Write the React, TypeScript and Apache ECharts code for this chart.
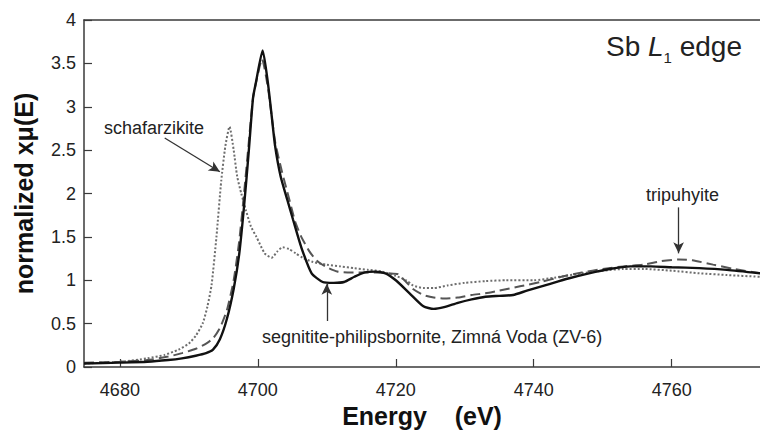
import React, { useEffect, useRef } from "react";
import * as echarts from "echarts";

// Energy (eV) and normalized absorption for each reference spectrum
const segnititeE = [4674.8, 4680, 4684, 4687, 4689, 4691, 4692.5, 4693.5, 4694.5, 4695.5, 4696.5, 4697.3, 4698, 4698.7, 4699.3, 4699.7, 4700.7, 4701.5, 4702, 4702.5, 4703.3, 4704.3, 4705.1, 4706.3, 4707.8, 4709.4, 4711, 4712.5, 4714, 4715.5, 4717, 4718.5, 4720, 4722, 4724, 4725.5, 4727, 4729, 4731, 4733, 4735, 4737, 4739, 4742, 4745, 4748, 4751, 4754, 4757, 4760, 4764, 4768, 4772.8];
const segnititeMu = [0.04, 0.05, 0.06, 0.08, 0.1, 0.13, 0.16, 0.2, 0.32, 0.55, 0.9, 1.3, 1.85, 2.5, 3.1, 3.27, 3.65, 3.25, 2.9, 2.55, 2.2, 1.92, 1.7, 1.38, 1.08, 0.98, 0.97, 0.98, 1.04, 1.09, 1.1, 1.08, 1.0, 0.85, 0.7, 0.67, 0.69, 0.74, 0.78, 0.81, 0.82, 0.83, 0.88, 0.95, 1.02, 1.08, 1.13, 1.16, 1.16, 1.15, 1.14, 1.12, 1.08];

const tripuhyiteE = [4674.8, 4680, 4684, 4687, 4689, 4691, 4692.5, 4693.5, 4694.5, 4695.5, 4696.5, 4697.3, 4698, 4698.7, 4699.3, 4699.8, 4700.6, 4701.5, 4702.5, 4703.5, 4704.5, 4705.4, 4706.3, 4707.5, 4708.5, 4710, 4711.5, 4713, 4715, 4717, 4719, 4720.3, 4721.5, 4722.5, 4724, 4725.5, 4727, 4729, 4731, 4733, 4735, 4738, 4741, 4744, 4747, 4750, 4753, 4756, 4758.5, 4761, 4763, 4766, 4769, 4772.8];
const tripuhyiteMu = [0.05, 0.06, 0.08, 0.12, 0.16, 0.21, 0.27, 0.33, 0.45, 0.65, 1.0, 1.45, 2.0, 2.6, 3.1, 3.3, 3.55, 3.2, 2.6, 2.25, 1.95, 1.68, 1.5, 1.33, 1.23, 1.15, 1.1, 1.09, 1.09, 1.09, 1.08, 1.07, 0.98, 0.9, 0.83, 0.8, 0.79, 0.8, 0.83, 0.85, 0.88, 0.93, 0.98, 1.04, 1.09, 1.13, 1.16, 1.18, 1.22, 1.24, 1.23, 1.18, 1.13, 1.08];

const schafarzikiteE = [4674.8, 4680, 4684, 4686.5, 4688.5, 4690, 4691, 4692, 4692.7, 4693.3, 4694, 4694.7, 4695.3, 4695.9, 4696.5, 4697, 4697.6, 4698.3, 4699, 4699.8, 4701, 4702, 4702.8, 4703.6, 4704.5, 4705.5, 4706.5, 4708, 4710, 4712, 4714, 4716, 4718, 4720, 4721.5, 4722.5, 4724, 4725.5, 4727.5, 4730, 4733, 4736, 4740, 4743, 4747, 4750, 4753, 4756, 4760, 4764, 4768, 4772.8];
const schafarzikiteMu = [0.04, 0.06, 0.1, 0.14, 0.2, 0.27, 0.36, 0.5, 0.7, 0.95, 1.5, 2.15, 2.55, 2.77, 2.5, 2.2, 2.0, 1.8, 1.62, 1.5, 1.31, 1.26, 1.33, 1.38, 1.36, 1.31, 1.26, 1.21, 1.18, 1.16, 1.14, 1.12, 1.1, 1.05, 1.0, 0.94, 0.91, 0.91, 0.94, 0.97, 0.99, 1.0, 1.0, 1.03, 1.08, 1.11, 1.13, 1.13, 1.11, 1.08, 1.06, 1.04];

const yTicks = [0, 0.5, 1, 1.5, 2, 2.5, 3, 3.5, 4];
const xRange = [4674.8, 4772.8];

// annotation arrows (data coordinates: from -> to)
const arrowSchafarzikite = [[4686.5, 2.64], [4694.5, 2.25]];
const arrowSegnitite = [[4710.0, 0.53], [4710.0, 0.96]];
const arrowTripuhyite = [[4761.0, 1.84], [4761.0, 1.31]];

const FONT = "'Liberation Sans', Arial, Helvetica, sans-serif";

const pairs = (xs: number[], ys: number[]) => xs.map((x, i) => [x, ys[i]]);

export default function App() {
  const ref = useRef<HTMLDivElement>(null);
  useEffect(() => {
    if (!ref.current) return;
    const chart = echarts.init(ref.current, null, { renderer: "svg" });
    const axisColor = "#3a3a3a";
    const arrowLine = (a: number[][]) => [{ coord: a[0] }, { coord: a[1] }];
    chart.setOption({
      animation: false,
      backgroundColor: "#ffffff",
      grid: { left: 84, top: 20, right: 0, bottom: 67, containLabel: false },
      xAxis: [
        {
          type: "value",
          min: xRange[0],
          max: xRange[1],
          splitNumber: 5,
          axisLine: { show: true, lineStyle: { color: axisColor, width: 1.5 } },
          axisTick: { show: true, inside: true, length: 8, lineStyle: { color: axisColor, width: 1.2 } },
          axisLabel: {
            color: "#222",
            fontFamily: FONT,
            fontSize: 18,
            margin: 14,
            showMinLabel: false,
            showMaxLabel: false,
            formatter: (v: number) => (Math.abs(v % 20) < 1e-6 ? String(v) : ""),
          },
          splitLine: { show: false },
          name: "Energy    (eV)",
          nameLocation: "middle",
          nameGap: 35,
          nameTextStyle: { fontFamily: FONT, fontSize: 25, fontWeight: "bold", color: "#111" },
        },
        {
          type: "value",
          position: "top",
          min: xRange[0],
          max: xRange[1],
          axisLine: { show: true, lineStyle: { color: axisColor, width: 1.5 } },
          axisTick: { show: false },
          axisLabel: { show: false },
          splitLine: { show: false },
        },
      ],
      yAxis: {
        type: "value",
        min: yTicks[0],
        max: yTicks[yTicks.length - 1],
        interval: 0.5,
        axisLine: { show: true, lineStyle: { color: axisColor, width: 1.5 } },
        axisTick: { show: true, inside: true, length: 8, lineStyle: { color: axisColor, width: 1.2 } },
        axisLabel: { color: "#222", fontFamily: FONT, fontSize: 18, margin: 8 },
        splitLine: { show: false },
        name: "normalized xμ(E)",
        nameLocation: "middle",
        nameGap: 48,
        nameTextStyle: { fontFamily: FONT, fontSize: 25, fontWeight: "bold", color: "#111" },
      },
      series: [
        {
          name: "schafarzikite",
          type: "line",
          data: pairs(schafarzikiteE, schafarzikiteMu),
          showSymbol: false,
          smooth: 0.2,
          lineStyle: { color: "#6e6e6e", width: 2, type: [2, 2] },
          z: 2,
        },
        {
          name: "tripuhyite",
          type: "line",
          data: pairs(tripuhyiteE, tripuhyiteMu),
          showSymbol: false,
          smooth: 0.2,
          lineStyle: { color: "#555555", width: 2, type: [10, 5] },
          z: 3,
        },
        {
          name: "segnitite-philipsbornite",
          type: "line",
          data: pairs(segnititeE, segnititeMu),
          showSymbol: false,
          smooth: 0.2,
          lineStyle: { color: "#111111", width: 2.4 },
          z: 4,
          markLine: {
            silent: true,
            symbol: ["none", "arrow"],
            symbolSize: [8, 11],
            label: { show: false },
            lineStyle: { color: "#333", width: 1.3, type: "solid" },
            data: [arrowLine(arrowSchafarzikite), arrowLine(arrowSegnitite), arrowLine(arrowTripuhyite)],
          },
        },
      ],
      graphic: [
        {
          type: "text",
          left: 104,
          top: 119,
          style: { text: "schafarzikite", fontFamily: FONT, fontSize: 18, fill: "#222" },
        },
        {
          type: "text",
          left: 262,
          top: 328,
          style: { text: "segnitite-philipsbornite, Zimná Voda (ZV-6)", fontFamily: FONT, fontSize: 18, fill: "#222" },
        },
        {
          type: "text",
          left: 646,
          top: 186,
          style: { text: "tripuhyite", fontFamily: FONT, fontSize: 18, fill: "#222" },
        },
        {
          type: "text",
          left: 606,
          top: 32,
          style: {
            text: "{n|Sb }{i|L}{s|1}{n| edge}",
            fontFamily: FONT,
            fill: "#222",
            rich: {
              n: { fontFamily: FONT, fontSize: 28, lineHeight: 30, fill: "#222" },
              i: { fontFamily: FONT, fontSize: 28, lineHeight: 30, fontStyle: "italic", fill: "#222" },
              s: { fontFamily: FONT, fontSize: 15, lineHeight: 38, verticalAlign: "bottom", fill: "#222" },
            },
          },
        },
      ],
    });
    return () => chart.dispose();
  }, []);
  return <div ref={ref} style={{ position: "fixed", left: 0, top: 0, width: 760, height: 434 }} />;
}
